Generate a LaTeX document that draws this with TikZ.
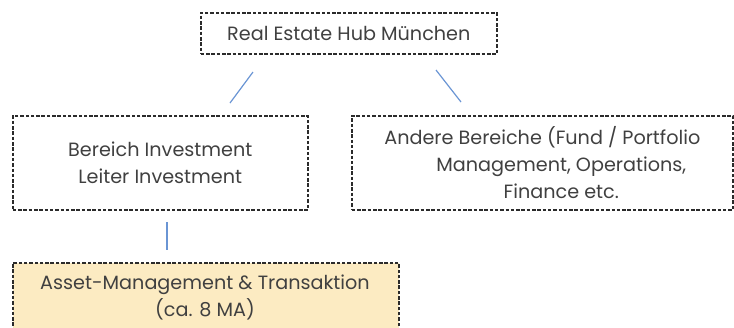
\documentclass[tikz,border=0pt]{standalone}
\usepackage{fontspec}
\setmainfont{Poppins}
\definecolor{txt}{HTML}{404040}
\definecolor{bord}{HTML}{2B2B2B}
\definecolor{conn}{HTML}{6A95D4}
\definecolor{yell}{HTML}{FCEBC2}
\begin{document}
\begin{tikzpicture}[x=1pt,y=-1pt,
  box/.style={draw=bord,line width=1.6pt,dash pattern=on 3.5pt off 1.8pt,text=txt,
    font=\fontsize{19.2}{27}\selectfont,align=center,inner sep=0pt},
  conline/.style={draw=conn,line width=1.2pt}]
\useasboundingbox (0,0) rectangle (734,327);
\node[box,minimum width=296pt,minimum height=41pt,anchor=north west] (hub) at (200,12) {Real Estate Hub München};
\node[box,minimum width=295pt,minimum height=94pt,anchor=north west] (inv) at (12,115) {Bereich Investment\\Leiter Investment};
\node[box,minimum width=381pt,minimum height=94pt,anchor=north west] (oth) at (351,115) {Andere Bereiche (Fund / Portfolio\\\hspace*{38pt}Management, Operations,\\\hspace*{38pt}Finance etc.};
\node[box,fill=yell,minimum width=386pt,minimum height=80pt,anchor=north west] (am) at (12,262) {};
\node[text=txt,font=\fontsize{19.2}{27}\selectfont,align=center,anchor=north] (amt) at (205,271) {Asset-Management \& Transaktion\\(ca. 8 MA)};
\coordinate (l1a) at (253,72); \coordinate (l1b) at (230,103);
\coordinate (l2a) at (436,70); \coordinate (l2b) at (461,102);
\coordinate (l3a) at (167,222); \coordinate (l3b) at (167,250);
\draw[conline] (l1a) -- (l1b);
\draw[conline] (l2a) -- (l2b);
\draw[conline] (l3a) -- (l3b);
\end{tikzpicture}
\end{document}
